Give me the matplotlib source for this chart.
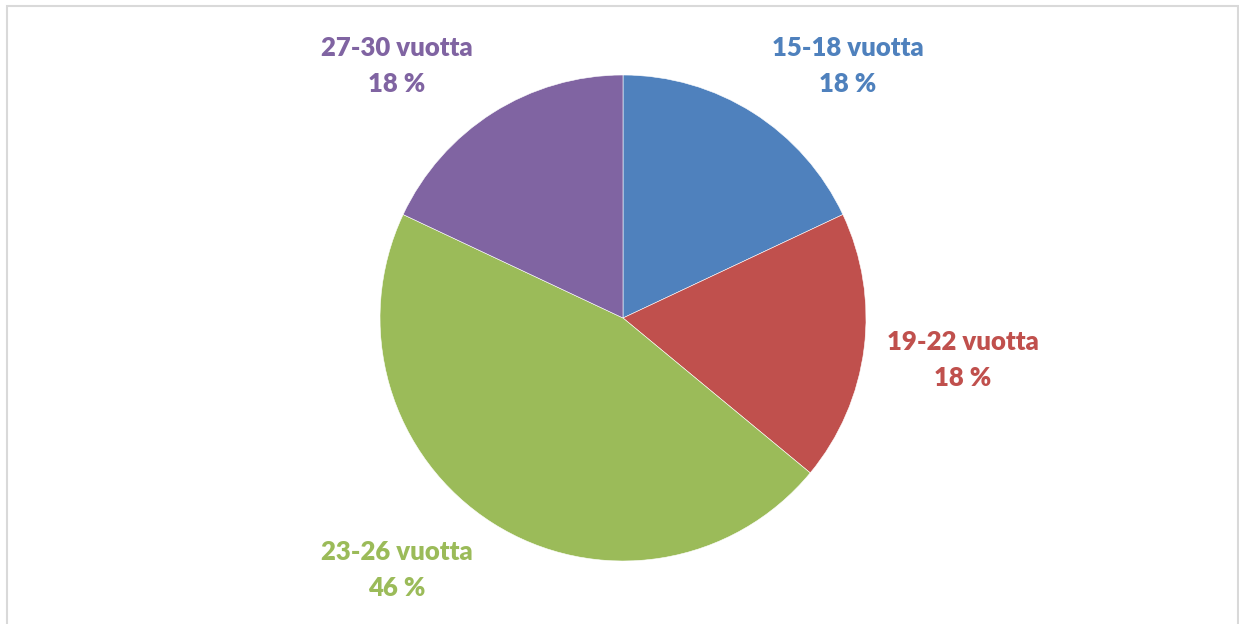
import matplotlib.pyplot as plt
from matplotlib.patches import Rectangle

# Ikäryhmät ja osuudet
ryhmat = ["15-18 vuotta", "19-22 vuotta", "23-26 vuotta", "27-30 vuotta"]
osuudet = [18, 18, 46, 18]
prosentit = ["18 %", "18 %", "46 %", "18 %"]
varit = ["#4F81BD", "#C0504D", "#9BBB59", "#8064A2"]

# Tekstien paikat (pikseleinä, y ylhäältä)
label_x = [848, 963, 397, 397]
label_y = [66, 360, 570, 66]

W, H = 1239, 624
fig = plt.figure(figsize=(W / 100, H / 100), dpi=100)
ax = fig.add_axes([0, 0, 1, 1])

# kehys
ax.add_patch(Rectangle((7, -10), 1231, H - 6 + 10, fill=False,
                       edgecolor="#D9D9D9", linewidth=1.5))

ax.pie(osuudet, colors=varit, startangle=90, counterclock=False,
       center=(623, H - 318), radius=243, frame=True,
       wedgeprops=dict(edgecolor="white", linewidth=0.4))
ax.set_xlim(0, W)
ax.set_ylim(0, H)
ax.set_aspect("equal")
ax.axis("off")

for nimi, pros, vari, lx, ly in zip(ryhmat, prosentit, varit, label_x, label_y):
    ax.text(lx, H - ly, nimi + "\n" + pros, color=vari, ha="center", va="center",
            fontsize=18.5, fontweight="heavy", family="Lato", linespacing=1.6)

plt.savefig("out.png", dpi=100)
